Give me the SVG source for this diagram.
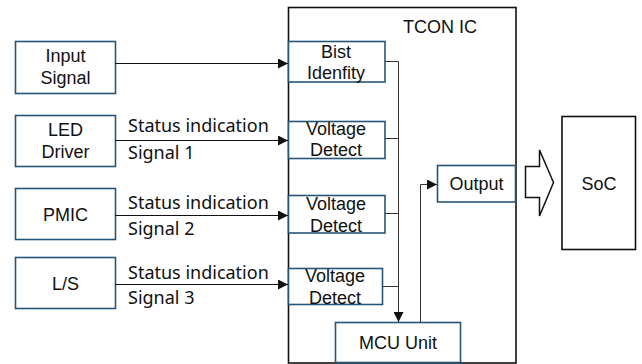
<svg xmlns="http://www.w3.org/2000/svg" width="642" height="364" viewBox="0 0 642 364">
<defs>
<style>
.n{fill:#fff;stroke:#265577;stroke-width:1.6}
.b{fill:#fff;stroke:#111;stroke-width:1.6}
.t{font-family:"Liberation Sans",Arial,sans-serif;font-size:18px;fill:#111;text-anchor:middle}
.s{font-family:"Noto Sans","Open Sans",sans-serif;font-size:18px;fill:#111}
.c{fill:none;stroke:#111;stroke-width:1}
.g{fill:none;stroke:#333;stroke-width:1}
</style>
<marker id="ah" viewBox="0 0 10 10" refX="10" refY="5" markerWidth="10" markerHeight="10" markerUnits="userSpaceOnUse" orient="auto">
<path d="M0,0 L10,5 L0,10 z" fill="#111"/>
</marker>
</defs>
<g id="tcon"><rect class="b" x="288.5" y="7.5" width="227.5" height="355.5"/><text class="t" x="440" y="33">TCON IC</text></g>
<g id="input"><rect class="n" x="15.5" y="41.5" width="100" height="52"/><text class="t" x="65.5" y="62">Input</text><text class="t" x="65.5" y="84">Signal</text></g>
<g id="led"><rect class="n" x="15.5" y="115.5" width="100" height="51"/><text class="t" x="65.5" y="136">LED</text><text class="t" x="65.5" y="158">Driver</text></g>
<g id="pmic"><rect class="n" x="15.5" y="188.5" width="100" height="51"/><text class="t" x="65.5" y="221">PMIC</text></g>
<g id="ls"><rect class="n" x="15.5" y="257.5" width="100" height="51"/><text class="t" x="65.5" y="290">L/S</text></g>
<g id="bist"><rect class="n" x="288.5" y="41.5" width="96.5" height="40.5"/><text class="t" x="336" y="58">Bist</text><text class="t" x="336" y="79">Idenfity</text></g>
<g id="vd1"><rect class="n" x="288.5" y="121.5" width="96.5" height="37"/><text class="t" x="336" y="135">Voltage</text><text class="t" x="336" y="156">Detect</text></g>
<g id="vd2"><rect class="n" x="288.5" y="195.5" width="96.5" height="37.5"/><text class="t" x="336" y="209.5">Voltage</text><text class="t" x="336" y="232">Detect</text></g>
<g id="vd3"><rect class="n" x="288.5" y="268.5" width="94" height="36"/><text class="t" x="335" y="282">Voltage</text><text class="t" x="335" y="304">Detect</text></g>
<g id="mcu"><rect class="n" x="335.5" y="322.5" width="125" height="40"/><text class="t" x="398" y="349">MCU Unit</text></g>
<g id="output"><rect class="n" x="437.5" y="165.5" width="78" height="36.5"/><text class="t" x="476.5" y="190">Output</text></g>
<g id="soc"><rect class="b" x="562" y="116.5" width="73.5" height="133"/><text class="t" x="599" y="190">SoC</text></g>
<g id="connectors">
<path class="c" d="M115.5,63.5 H288" marker-end="url(#ah)"/>
<path class="c" d="M115.5,140.5 H288" marker-end="url(#ah)"/>
<path class="c" d="M115.5,215.5 H288" marker-end="url(#ah)"/>
<path class="c" d="M115.5,284.5 H288" marker-end="url(#ah)"/>
<path class="g" d="M385,61.5 H398.5 V322" marker-end="url(#ah)"/>
<path class="g" d="M385,138.5 H398.5"/>
<path class="g" d="M385,213.5 H398.5"/>
<path class="g" d="M382.5,286.5 H398.5"/>
<path class="g" d="M420.5,322.5 V184.5 H437" marker-end="url(#ah)"/>
<path d="M525.5,166.5 H539.5 V150 L553.5,182.5 L539.5,216 V197.5 H525.5 Z" fill="#fff" stroke="#111" stroke-width="1.5"/>
<text class="s" x="128" y="132">Status indication</text>
<text class="s" x="128" y="159">Signal 1</text>
<text class="s" x="128" y="209">Status indication</text>
<text class="s" x="128" y="235">Signal 2</text>
<text class="s" x="128" y="279">Status indication</text>
<text class="s" x="128" y="304">Signal 3</text>
</g>
</svg>
